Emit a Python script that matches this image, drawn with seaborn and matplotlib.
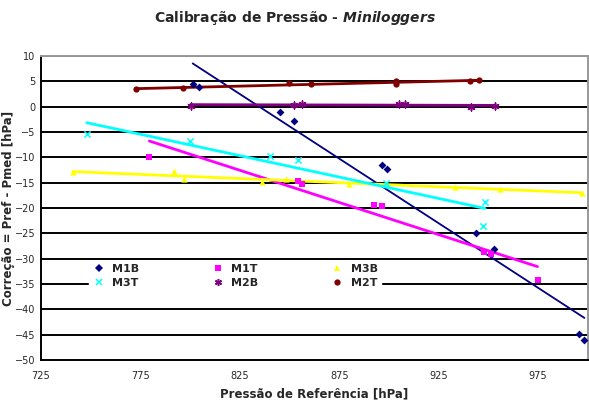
import numpy as np
import matplotlib
matplotlib.use("Agg")
import matplotlib.pyplot as plt
import seaborn as sns
from matplotlib.lines import Line2D

# values
m1b_x = [801.3, 804.6, 845.2, 852.2, 896.3, 899.1, 943.7, 952.6, 995.6, 998.3]
m1b_y = [4.4, 3.9, -1.0, -2.8, -11.6, -12.3, -25.0, -28.2, -44.9, -46.1]
m1t_x = [779.5, 854.3, 856.5, 892.7, 896.4, 947.9, 951.3, 974.7]
m1t_y = [-10.0, -14.6, -15.3, -19.4, -19.7, -28.6, -29.0, -34.2]
m3b_x = [741, 792, 797, 836, 848, 880, 933, 956, 997]
m3b_y = [-13.0, -12.8, -14.2, -14.8, -14.2, -15.3, -15.9, -16.3, -17.0]
m3t_x = [748, 800, 840, 854, 898.6, 947.3, 948.3]
m3t_y = [-5.3, -6.8, -9.7, -10.6, -15.1, -23.5, -18.8]
m2b_x = [800.2, 852, 856.5, 905, 908, 941, 953.5]
m2b_y = [0.1, 0.4, 0.6, 0.5, 0.5, 0.0, 0.1]
m2t_x = [772.8, 796.2, 849.6, 860.6, 903.3, 903.3, 940.8, 945.3]
m2t_y = [3.4, 3.7, 4.7, 4.4, 5.1, 4.5, 5.0, 5.2]

series = [
    ("M1B", m1b_x, m1b_y, "#000080", "D", 1.3, 4),
    ("M1T", m1t_x, m1t_y, "#FF00FF", "s", 2.0, 4.5),
    ("M3B", m3b_x, m3b_y, "#FFFF00", "^", 2.0, 4.5),
    ("M3T", m3t_x, m3t_y, "#00FFFF", "x", 2.0, 4.5),
    ("M2B", m2b_x, m2b_y, "#800080", (6, 2, 0), 2.0, 5),
    ("M2T", m2t_x, m2t_y, "#800000", "o", 2.0, 4.5),
]

sns.set_style("white")
plt.rcParams['font.family'] = ['DejaVu Sans']

fig = plt.figure(figsize=(5.89, 4.03), dpi=100)
ax = fig.add_axes([0.0696, 0.107, 0.9284, 0.754])

for y in range(-45, 15, 5):
    ax.axhline(y, color="black", lw=1.4, zorder=0)

handles = {}
for name, xs, ys, col, mk, lw, ms in series:
    thin = mk in ("x", (6, 2, 0))
    sns.regplot(x=np.array(xs), y=np.array(ys), ax=ax, ci=None, truncate=True,
                marker=mk, color=col,
                scatter_kws=dict(s=ms ** 2, linewidths=1.1 if thin else 0, zorder=3, alpha=1),
                line_kws=dict(lw=lw, zorder=2))
    handles[name] = Line2D([], [], ls="none", marker=mk, color=col, markersize=ms,
                           markeredgewidth=1.1 if thin else 0)

order = ["M1B", "M3T", "M1T", "M2B", "M3B", "M2T"]
leg = ax.legend([handles[k] for k in order], order, ncol=3, loc="upper left",
                bbox_to_anchor=(0.077, 0.345), frameon=True, fancybox=False,
                edgecolor="white", framealpha=1, prop=dict(size=8, weight="bold"),
                columnspacing=6.5, handletextpad=0.6, labelspacing=0.35,
                borderpad=0.3, handlelength=1.2)
leg.set_zorder(5)

ax.set_xlim(725, 1000)
ax.set_ylim(-50, 10)
ax.set_xticks(range(725, 1000, 50))
ax.set_yticks(range(-50, 15, 5))
ax.tick_params(labelsize=7, length=3, direction="out", color="black")
ax.tick_params(axis="y", pad=1)
ax.tick_params(axis="x", pad=5)
for s in ["left", "bottom"]:
    ax.spines[s].set_color("black")
    ax.spines[s].set_linewidth(1.4)
for s in ["top", "right"]:
    ax.spines[s].set_color("#999999")
    ax.spines[s].set_linewidth(1.4)

ax.set_xlabel("Pressão de Referência [hPa]", fontsize=8.5, fontweight="bold", labelpad=5)
ax.set_ylabel("Correção = Pref - Pmed [hPa]", fontsize=8.5, fontweight="bold", labelpad=0)
fig.text(0.5, 0.945, r"Calibração de Pressão - $\mathbfit{Miniloggers}$", ha="center",
         fontsize=10, fontweight="bold")

fig.savefig("out.png", dpi=100)
